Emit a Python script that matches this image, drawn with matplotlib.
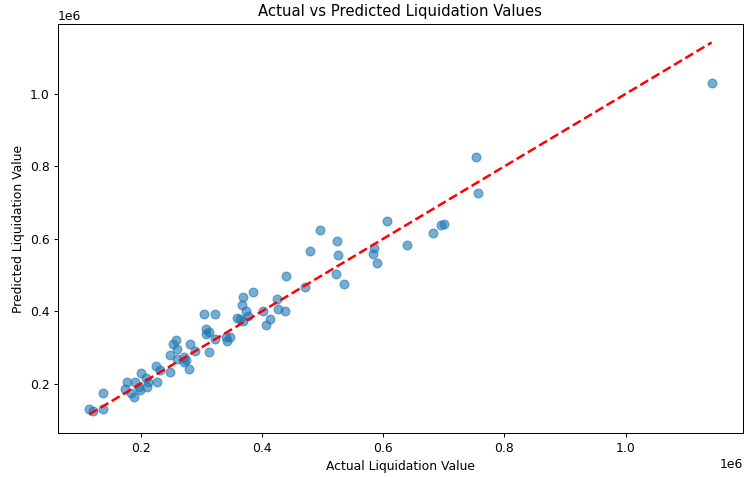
import matplotlib

matplotlib.use("Agg")

import matplotlib.pyplot as plt

# values in units of 1e6
actual = [
    0.115, 0.121, 0.138, 0.138, 0.177, 0.174, 0.184, 0.189, 0.190, 0.201,
    0.197, 0.198, 0.208, 0.210, 0.212, 0.226, 0.225, 0.231, 0.249, 0.248,
    0.253, 0.258, 0.259, 0.259, 0.271, 0.272, 0.274, 0.279, 0.281, 0.289,
    0.305, 0.322, 0.308, 0.312, 0.308, 0.312, 0.322, 0.340, 0.348, 0.343,
    0.359, 0.364, 0.368, 0.367, 0.369, 0.374, 0.377, 0.386, 0.401, 0.407,
    0.413, 0.425, 0.427, 0.438, 0.440, 0.471, 0.480, 0.496, 0.522, 0.524,
    0.525, 0.535, 0.583, 0.585, 0.590, 0.606, 0.640, 0.683, 0.695, 0.701,
    0.754, 0.756, 1.142,
]
predicted = [
    0.130, 0.125, 0.174, 0.130, 0.205, 0.186, 0.174, 0.163, 0.205, 0.230,
    0.191, 0.183, 0.216, 0.191, 0.205, 0.205, 0.249, 0.238, 0.233, 0.280,
    0.310, 0.321, 0.296, 0.269, 0.260, 0.274, 0.266, 0.241, 0.310, 0.291,
    0.393, 0.393, 0.352, 0.344, 0.338, 0.288, 0.324, 0.330, 0.330, 0.319,
    0.382, 0.380, 0.374, 0.418, 0.438, 0.402, 0.388, 0.454, 0.402, 0.363,
    0.380, 0.435, 0.407, 0.402, 0.496, 0.468, 0.565, 0.623, 0.504, 0.593,
    0.554, 0.476, 0.557, 0.576, 0.534, 0.648, 0.582, 0.617, 0.637, 0.640,
    0.825, 0.726, 1.030,
]

y_test = [v * 1e6 for v in actual]
y_pred = [v * 1e6 for v in predicted]
lo, hi = min(y_test), max(y_test)

DPI = 89
fig, ax = plt.subplots(figsize=(745 / DPI, 477 / DPI), dpi=DPI)
fig.subplots_adjust(left=0.078, right=0.997, top=0.950, bottom=0.092)

ax.scatter(y_test, y_pred, alpha=0.6, s=50)
ax.plot([lo, hi], [lo, hi], "r--", lw=2)
ax.set_xlabel("Actual Liquidation Value")
ax.set_ylabel("Predicted Liquidation Value")
ax.set_title("Actual vs Predicted Liquidation Values")

fig.savefig("out.png", dpi=DPI)
